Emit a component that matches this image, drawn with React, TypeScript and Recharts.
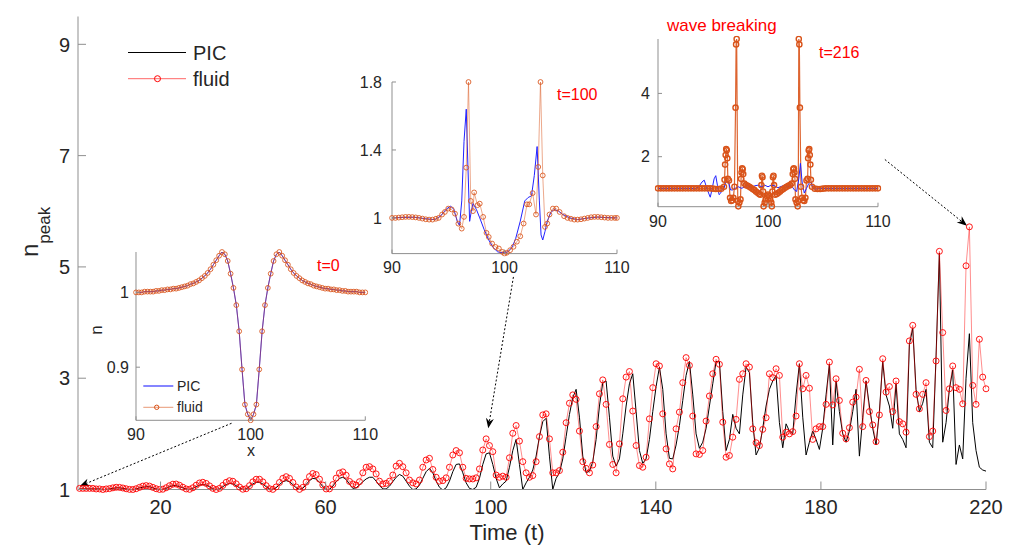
import React from "react";
import { LineChart, Line, XAxis, YAxis, ReferenceLine } from "recharts";

const FONT = '"Liberation Sans", Arial, Helvetica, sans-serif';
const INK = "#262626";
const FRAME = "#8f8f8f";
const ORANGE = "#d95319";
const BLUE = "#2020ff";

// main panel: peak density against time
const FLUID = [
  1.02, 1.02,
  1.02, 1.02, 1.02, 1.01, 1.01, 1.0, 1.01,
  1.016, 1.03, 1.04, 1.038, 1.027, 1.013, 1.002,
  1.0, 1.014, 1.038, 1.061, 1.07, 1.061, 1.038, 1.014, 1.001,
  1.005, 1.032, 1.068, 1.095, 1.098, 1.076, 1.041, 1.01,
  1.003, 1.031, 1.077, 1.117, 1.13, 1.109, 1.065, 1.021, 1.0,
  1.021, 1.073, 1.128, 1.158, 1.148, 1.102, 1.044, 1.005,
  1.014, 1.069, 1.137, 1.184, 1.184, 1.137, 1.069, 1.014,
  1.002, 1.046, 1.126, 1.2, 1.23, 1.2, 1.126, 1.046, 1.002,
  1.038, 1.132, 1.232, 1.287, 1.268, 1.185, 1.08, 1.01,
  1.011, 1.089, 1.204, 1.296, 1.317, 1.256, 1.145,
  1.10, 1.08, 1.14, 1.30, 1.40, 1.41, 1.37, 1.28, 1.15, 1.10,
  1.11, 1.15, 1.26, 1.42, 1.47, 1.41, 1.30, 1.17, 1.12, 1.10,
  1.17, 1.40, 1.53, 1.56, 1.36, 1.22, 1.15, 1.16, 1.21, 1.40,
  1.62, 1.70, 1.66, 1.40, 1.20, 1.19, 1.19, 1.21, 1.37, 1.71,
  1.91, 1.79, 1.68, 1.26, 1.22, 1.24, 1.22, 1.57, 2.01, 2.15,
  1.87, 1.50, 1.30, 1.22, 1.25, 1.50, 1.95, 2.34, 2.36, 1.91,
  1.30, 1.30, 1.34, 1.67, 2.20, 2.55, 2.70, 2.62, 2.05, 1.50,
  1.38, 1.30, 1.44, 2.13, 2.72, 2.97, 2.53, 1.81, 1.45, 1.30,
  1.82, 2.63, 3.02, 3.12, 2.41, 1.79, 1.43, 1.40, 1.58, 2.27,
  2.83, 3.26, 3.22, 2.36, 1.73, 1.46, 1.37, 2.09, 2.39, 2.92,
  3.37, 3.23, 2.32, 1.64, 1.63, 1.70, 2.23, 2.68, 3.08, 3.34,
  3.25, 2.21, 1.58, 1.61, 1.94, 2.26, 2.98, 3.08, 3.26, 3.20,
  2.09, 1.84, 1.79, 2.08, 2.29, 3.08, 3.01, 3.17, 3.05, 1.94,
  2.03, 2.00, 2.04, 2.32,
  3.26, 2.81, 3.05, 2.82, 1.90, 2.09, 2.13, 2.13, 2.53, 3.29,
  2.52, 2.99, 2.60, 2.01, 1.91, 2.11, 2.57, 2.66, 3.16, 2.13,
  2.96, 2.40, 2.16, 1.86, 2.34, 3.35, 2.75, 2.85, 2.40, 2.95,
  2.22, 2.18, 2.03, 3.67, 3.95, 2.71, 2.45, 2.71, 2.92, 1.95,
  2.05, 3.31, 5.28, 3.82, 2.42, 2.81, 3.22, 2.83, 2.80, 2.54,
  5.02, 5.72, 2.87, 2.53, 3.70, 3.02, 2.81,
];

const PIC = [
  1.01, 1.01,
  1.01, 1.01, 1.01, 1.01, 1.01, 1.0, 1.0,
  1.01, 1.02, 1.03, 1.03, 1.02, 1.01, 1.0,
  1.0, 1.01, 1.03, 1.04, 1.05, 1.05, 1.03, 1.01, 1.0,
  1.0, 1.02, 1.05, 1.07, 1.07, 1.05, 1.03, 1.01,
  1.0, 1.02, 1.05, 1.08, 1.09, 1.08, 1.05, 1.01, 1.0,
  1.01, 1.05, 1.09, 1.11, 1.10, 1.07, 1.03, 1.0,
  1.01, 1.05, 1.10, 1.13, 1.13, 1.10, 1.05, 1.01,
  1.0, 1.03, 1.09, 1.14, 1.16, 1.14, 1.09, 1.03, 1.0,
  1.02, 1.09, 1.16, 1.20, 1.19, 1.13, 1.05, 1.0,
  1.0, 1.06, 1.14, 1.20, 1.22, 1.18, 1.10,
  1.02, 1.03, 1.08, 1.14, 1.19, 1.22, 1.22, 1.15, 1.07, 1.01,
  1.01, 1.06, 1.14, 1.22, 1.27, 1.24, 1.15, 1.06, 1.00, 1.01,
  1.08, 1.20, 1.32, 1.38, 1.30, 1.15, 1.04, 0.99, 1.03, 1.15,
  1.32, 1.45, 1.46, 1.30, 1.12, 1.02, 1.00, 1.04, 1.20, 1.45,
  1.64, 1.66, 1.45, 1.20, 1.03, 1.10, 1.15, 1.40, 1.70, 1.90,
  1.45, 1.00, 1.12, 1.22, 1.35, 1.60, 1.95, 2.22, 2.28, 1.60,
  1.00, 1.20, 1.30, 1.55, 1.95, 2.35, 2.65, 2.80, 2.30, 1.60,
  1.30, 1.33, 1.50, 1.90, 2.50, 2.92, 2.95, 2.30, 1.60, 1.42,
  1.55, 2.00, 2.50, 2.90, 3.08, 2.40, 1.70, 1.47, 1.55, 1.90,
  2.40, 2.85, 3.20, 2.80, 2.00, 1.56, 1.55, 1.80, 2.15, 2.60,
  3.05, 3.30, 2.70, 2.00, 1.74, 1.85, 2.10, 2.50, 2.90, 3.30,
  3.30, 2.40, 1.70, 1.90, 2.35, 2.10, 2.00, 2.70, 3.20, 3.10,
  2.20, 1.62, 1.75, 2.10, 2.50, 2.80, 2.95, 3.05, 2.20, 1.75,
  2.18, 2.05, 2.00, 2.70, 3.26, 2.30, 1.62,
  1.85, 2.05, 1.90, 1.72, 2.10, 2.70, 3.25, 1.80, 2.95, 2.40,
  2.00, 1.85, 2.05, 2.40, 2.80, 1.60, 2.30, 2.95, 2.50, 2.10,
  1.80, 2.40, 3.30, 2.70, 2.50, 2.10, 2.90, 2.00, 1.90, 1.75,
  3.60, 3.90, 2.80, 2.40, 2.55, 2.80, 1.85, 1.75, 3.40, 5.25,
  1.85, 2.20, 2.80, 3.15, 1.45, 1.80, 1.55, 3.00, 3.80, 2.20,
  1.70, 1.40, 1.35, 1.33,
];

// output times of the simulation (uniform sampling)
const TIME = FLUID.map((_, j) => +(0.37 + 0.8075 * j).toFixed(3));

const T_TICKS = [20, 60, 100, 140, 180, 220];
const N_TICKS = [1, 3, 5, 7, 9];
const X_TICKS = [90, 100, 110];

// inset t=0: initial density profile (PIC and fluid coincide)
const T0_PROFILE = [
  [90, 1.0], [90.25, 1.0], [90.5, 1.0], [90.75, 1.001], [91, 1.001], [91.25, 1.001], [91.5, 1.001],
  [91.75, 1.002], [92, 1.002], [92.25, 1.003], [92.5, 1.003], [92.75, 1.004], [93, 1.004],
  [93.25, 1.005], [93.5, 1.005], [93.75, 1.006], [94, 1.007], [94.25, 1.008], [94.5, 1.009],
  [94.75, 1.011], [95, 1.012], [95.25, 1.014], [95.5, 1.016], [95.75, 1.019], [96, 1.022],
  [96.25, 1.026], [96.5, 1.031], [96.75, 1.037], [97, 1.043], [97.25, 1.049], [97.5, 1.054],
  [97.75, 1.051], [98, 1.042], [98.25, 1.025], [98.5, 1.006], [98.75, 0.983], [99, 0.948],
  [99.25, 0.897], [99.5, 0.85], [99.75, 0.837], [100, 0.829], [100.25, 0.837], [100.5, 0.85],
  [100.75, 0.897], [101, 0.948], [101.25, 0.983], [101.5, 1.006], [101.75, 1.025], [102, 1.042],
  [102.25, 1.051], [102.5, 1.054], [102.75, 1.049], [103, 1.043], [103.25, 1.037], [103.5, 1.031],
  [103.75, 1.026], [104, 1.022], [104.25, 1.019], [104.5, 1.016], [104.75, 1.014], [105, 1.012],
  [105.25, 1.011], [105.5, 1.009], [105.75, 1.008], [106, 1.007], [106.25, 1.006], [106.5, 1.005],
  [106.75, 1.005], [107, 1.004], [107.25, 1.004], [107.5, 1.003], [107.75, 1.003], [108, 1.002],
  [108.25, 1.002], [108.5, 1.001], [108.75, 1.001], [109, 1.001], [109.25, 1.001], [109.5, 1.0],
  [109.75, 1.0], [110, 1.0],
];

// inset t=100
const T100_FLUID = [
  [90, 1.0], [90.3, 1.0], [90.6, 1.002], [90.9, 1.004], [91.2, 1.006], [91.5, 1.006], [91.8, 1.005],
  [92.1, 1.003], [92.4, 1.0], [92.7, 0.996], [93.0, 0.992], [93.3, 0.99], [93.6, 0.99], [93.9, 0.995],
  [94.15, 1.0], [94.45, 1.02], [94.7, 1.035], [95.0, 1.055], [95.3, 1.05], [95.6, 1.025], [95.9, 0.966],
  [96.2, 0.937], [96.4, 1.006], [96.6, 1.296], [96.8, 1.8], [97.0, 1.1], [97.2, 1.04], [97.3, 1.15],
  [97.6, 1.075], [97.8, 1.084], [98.1, 1.006], [98.4, 0.912], [98.6, 0.888], [98.9, 0.849],
  [99.2, 0.829], [99.5, 0.82], [99.8, 0.8], [100.0, 0.79], [100.2, 0.795], [100.5, 0.81],
  [100.8, 0.83], [101.1, 0.86], [101.4, 0.892], [101.7, 0.967], [102.0, 1.08], [102.2, 1.08],
  [102.5, 1.146], [102.8, 1.02], [103.0, 1.3], [103.2, 1.8], [103.4, 1.25], [103.6, 0.947],
  [103.8, 0.967], [104.0, 1.02], [104.3, 1.055], [104.6, 1.055], [104.9, 1.035], [105.3, 1.01],
  [105.6, 1.0], [105.9, 0.995], [106.2, 0.99], [106.5, 0.99], [106.8, 0.992], [107.1, 0.996],
  [107.4, 1.0], [107.7, 1.004], [108.0, 1.006], [108.3, 1.006], [108.6, 1.004], [108.9, 1.002],
  [109.2, 1.0], [109.5, 1.0], [109.8, 1.0], [110, 1.0],
];
const T100_PIC = [
  [90, 1.0], [91, 1.003], [92, 1.004], [93, 0.995], [93.8, 0.99], [94.3, 1.01], [94.8, 1.05],
  [95.2, 1.07], [95.5, 1.05], [95.8, 0.98], [96.0, 0.955], [96.2, 1.1], [96.4, 1.45], [96.6, 1.64],
  [96.75, 1.3], [96.9, 0.98], [97.05, 1.04], [97.2, 1.085], [97.5, 1.05], [97.8, 1.0], [98.2, 0.93],
  [98.6, 0.87], [99.0, 0.825], [99.4, 0.8], [99.8, 0.795], [100.3, 0.8], [100.7, 0.83], [101.0, 0.88],
  [101.4, 0.98], [101.8, 1.1], [102.1, 1.12], [102.4, 1.13], [102.65, 1.25], [102.9, 1.42],
  [103.1, 1.1], [103.25, 0.9], [103.4, 0.87], [103.6, 0.92], [103.8, 0.98], [104.1, 1.03],
  [104.4, 1.05], [104.8, 1.04], [105.2, 1.02], [105.8, 1.0], [106.5, 0.99], [107.5, 1.0],
  [108.3, 1.005], [109, 1.002], [110, 1.0],
];

// inset t=216 (wave breaking)
const T216_FLUID = [
  [90, 1], [90.25, 1], [90.5, 1], [90.75, 1], [91, 1], [91.25, 1], [91.5, 1], [91.75, 1],
  [92, 1], [92.25, 1], [92.5, 1], [92.75, 1], [93, 1], [93.25, 1], [93.5, 1], [93.75, 1],
  [94, 1], [94.25, 1], [94.5, 1], [94.75, 1], [95, 0.99], [95.25, 0.98], [95.5, 0.98], [95.75, 0.99],
  [96.0, 1.05], [96.05, 1.27], [96.1, 1.75], [96.15, 2.05], [96.2, 2.24], [96.25, 2.2], [96.3, 1.95],
  [96.35, 1.3], [96.45, 1.25], [96.55, 0.7], [96.65, 0.6], [96.75, 0.62], [96.85, 0.7], [96.95, 1.05],
  [97.05, 3.55], [97.1, 5.55], [97.15, 5.72], [97.25, 0.6], [97.3, 0.43], [97.4, 0.55], [97.5, 0.65],
  [97.55, 1.3], [97.6, 1.5], [97.65, 1.63], [97.7, 1.6], [97.75, 1.45], [97.85, 1.15], [98.0, 1.1],
  [98.15, 1.08], [98.3, 1.05], [98.45, 1.02], [98.6, 0.98], [98.75, 0.95], [98.9, 0.9], [99.05, 0.86],
  [99.2, 0.82], [99.3, 0.8], [99.4, 1.1], [99.45, 1.4], [99.5, 1.35], [99.55, 0.9], [99.6, 0.43],
  [99.7, 0.55], [99.8, 0.65], [99.9, 0.75], [100.0, 0.8], [100.1, 0.75], [100.2, 0.65], [100.3, 0.55],
  [100.35, 0.43], [100.4, 0.9], [100.45, 1.35], [100.5, 1.4], [100.55, 1.1], [100.65, 0.8],
  [100.8, 0.82], [100.95, 0.86], [101.1, 0.9], [101.25, 0.95], [101.4, 0.98], [101.55, 1.02],
  [101.7, 1.05], [101.85, 1.08], [102.0, 1.1], [102.15, 1.15], [102.25, 1.45], [102.3, 1.6],
  [102.35, 1.63], [102.4, 1.5], [102.45, 1.3], [102.5, 0.65], [102.6, 0.55], [102.7, 0.43],
  [102.75, 0.6], [102.8, 5.72], [102.85, 5.55], [102.9, 3.55], [103.0, 1.05], [103.1, 0.7],
  [103.2, 0.62], [103.3, 0.6], [103.4, 0.7], [103.5, 1.25], [103.6, 1.3], [103.65, 1.95],
  [103.7, 2.2], [103.75, 2.24], [103.8, 2.05], [103.85, 1.75], [103.9, 1.27], [104.0, 1.05],
  [104.25, 0.99], [104.5, 0.98], [104.75, 0.98], [105, 0.99], [105.25, 1], [105.5, 1], [105.75, 1],
  [106, 1], [106.25, 1], [106.5, 1], [106.75, 1], [107, 1], [107.25, 1], [107.5, 1], [107.75, 1],
  [108, 1], [108.25, 1], [108.5, 1], [108.75, 1], [109, 1], [109.25, 1], [109.5, 1], [109.75, 1], [110, 1],
];
const T216_PIC = [
  [90, 1.0], [93.0, 1.0], [93.4, 0.98], [93.7, 1.05], [94.0, 1.2], [94.2, 1.26], [94.4, 1.05],
  [94.6, 0.85], [94.75, 0.72], [94.9, 0.95], [95.1, 1.3], [95.25, 1.4], [95.4, 1.1], [95.55, 0.8],
  [95.7, 0.85], [95.85, 0.98], [96.0, 1.0], [96.2, 1.25], [96.4, 1.2], [96.6, 0.95], [96.8, 0.95],
  [97.0, 1.0], [97.3, 1.05], [97.6, 1.0], [97.9, 1.05], [98.2, 1.08], [98.5, 1.03], [98.8, 1.08],
  [99.1, 1.1], [99.4, 1.05], [99.7, 1.1], [100.0, 1.05], [100.3, 1.1], [100.6, 1.08], [100.9, 1.02],
  [101.2, 1.06], [101.5, 1.1], [101.8, 1.05], [102.1, 1.1], [102.4, 0.95], [102.6, 0.9], [102.8, 1.3],
  [102.95, 1.79], [103.1, 1.2], [103.3, 0.85], [103.5, 1.0], [103.7, 1.15], [103.9, 1.2], [104.1, 1.0],
  [104.3, 0.97], [104.6, 1.0], [110, 1.0],
];

// dotted annotation arrows (tail -> head, in main-axis data units)
const ARROWS = [
  [{ x: 37.2, y: 2.19 }, { x: 0.4, y: 1.06 }],
  [{ x: 105.5, y: 4.82 }, { x: 99.4, y: 2.1 }],
  [{ x: 195.5, y: 6.93 }, { x: 215.4, y: 5.74 }],
];

const mainData = TIME.map((t, j) => ({ t, pic: PIC[j], fluid: FLUID[j] }));
const toXY = (pts: number[][]) => pts.map(([x, n]) => ({ x, n }));

// inward tick marks on every side of the box (matlab style)
const tickFactory = (side: string, len: number, size: number, gap: number) => (p: any) => {
  const { x, y, payload } = p;
  if (side === "bottom") {
    return (
      <g>
        <line x1={x} x2={x} y1={y - gap} y2={y - gap - len} stroke={FRAME} />
        <text x={x} y={y} dy={size * 0.74} textAnchor="middle" fontSize={size} fill={INK} fontFamily={FONT}>
          {payload.value}
        </text>
      </g>
    );
  }
  if (side === "left") {
    return (
      <g>
        <line x1={x + gap} x2={x + gap + len} y1={y} y2={y} stroke={FRAME} />
        <text x={x} y={y} dy={size * 0.36} textAnchor="end" fontSize={size} fill={INK} fontFamily={FONT}>
          {payload.value}
        </text>
      </g>
    );
  }
  if (side === "top") return <line x1={x} x2={x} y1={y} y2={y + len} stroke={FRAME} />;
  return <line x1={x - len} x2={x} y1={y} y2={y} stroke={FRAME} />;
};

const arrowShape = (p: any) => {
  const { x1, y1, x2, y2 } = p;
  const a = Math.atan2(y2 - y1, x2 - x1);
  const c = Math.cos(a);
  const s = Math.sin(a);
  const L = 10;
  const W = 4;
  const bx = x2 - L * c;
  const by = y2 - L * s;
  const pts = [
    [x2, y2],
    [bx - s * W, by + c * W],
    [bx + 0.3 * L * c, by + 0.3 * L * s],
    [bx + s * W, by - c * W],
  ]
    .map((q) => q.join(","))
    .join(" ");
  return (
    <g>
      <line x1={x1} y1={y1} x2={bx + 0.3 * L * c} y2={by + 0.3 * L * s} stroke="#000" strokeWidth={1} strokeDasharray="2 2" />
      <polygon points={pts} fill="#000" />
    </g>
  );
};

type Box = { l: number; t: number; r: number; b: number };

function Inset({ box, yDomain, yTicks, yGap, children }: { box: Box; yDomain: number[]; yTicks: number[]; yGap: number; children: React.ReactNode }) {
  const ml = 60;
  const mt = 14;
  const mr = 22;
  const mb = 34;
  const w = box.r - box.l + ml + mr;
  const h = box.b - box.t + mt + mb;
  return (
    <div style={{ position: "absolute", left: box.l - ml, top: box.t - mt }}>
      <LineChart width={w} height={h} margin={{ top: mt, right: mr, bottom: 0, left: 0 }}>
        <XAxis dataKey="x" type="number" domain={[90, 110]} ticks={X_TICKS} interval={0} allowDataOverflow height={mb}
          tickSize={0} tickMargin={8} tickLine={false} axisLine={{ stroke: FRAME }} tick={tickFactory("bottom", 4, 16, 8)} />
        <XAxis xAxisId="top" orientation="top" dataKey="x" type="number" domain={[90, 110]} ticks={X_TICKS} interval={0}
          allowDataOverflow height={0} tickSize={0} tickMargin={0} tickLine={false} axisLine={{ stroke: FRAME }} tick={tickFactory("top", 4, 0, 0)} />
        <YAxis type="number" domain={yDomain} ticks={yTicks} interval={0} allowDataOverflow width={ml}
          tickSize={0} tickMargin={yGap} tickLine={false} axisLine={{ stroke: FRAME }} tick={tickFactory("left", 4, 16, yGap)} />
        <YAxis yAxisId="right" orientation="right" type="number" domain={yDomain} ticks={yTicks} interval={0} allowDataOverflow
          width={0} tickSize={0} tickMargin={0} tickLine={false} axisLine={{ stroke: FRAME }} tick={tickFactory("right", 4, 0, 0)} />
        {children}
      </LineChart>
    </div>
  );
}

const fluidDots = (op: number, r: number, sw: number) => ({ r, stroke: ORANGE, strokeOpacity: op, strokeWidth: sw, fill: "none", clipDot: false });

export default function App() {
  return (
    <div style={{ position: "absolute", left: 0, top: 0, width: 1035, height: 545, background: "#fff", fontFamily: FONT }}>
      <div style={{ position: "absolute", left: 0, top: 0 }}>
        <LineChart width={1035} height={545} data={mainData} margin={{ top: 16.5, right: 49, bottom: 0, left: 0 }}>
          <XAxis dataKey="t" type="number" domain={[0, 220]} ticks={T_TICKS} interval={0} allowDataOverflow height={55.5}
            tickSize={0} tickMargin={10} tickLine={false} axisLine={{ stroke: FRAME }} tick={tickFactory("bottom", 8, 20, 10)} />
          <XAxis xAxisId="top" orientation="top" dataKey="t" type="number" domain={[0, 220]} ticks={T_TICKS} interval={0}
            allowDataOverflow height={0} tickSize={0} tickMargin={0} tickLine={false} axisLine={{ stroke: FRAME }} tick={tickFactory("top", 8, 0, 0)} />
          <YAxis type="number" domain={[1, 9.5]} ticks={N_TICKS} interval={0} allowDataOverflow width={78}
            tickSize={0} tickMargin={8} tickLine={false} axisLine={{ stroke: FRAME }} tick={tickFactory("left", 8, 20, 8)} />
          <YAxis yAxisId="right" orientation="right" type="number" domain={[1, 9.5]} ticks={N_TICKS} interval={0} allowDataOverflow
            width={0} tickSize={0} tickMargin={0} tickLine={false} axisLine={{ stroke: FRAME }} tick={tickFactory("right", 8, 0, 0)} />
          <Line dataKey="pic" stroke="#000" strokeWidth={1} dot={false} isAnimationActive={false} />
          <Line dataKey="fluid" stroke="#ff0000" strokeOpacity={0.45} strokeWidth={1}
            dot={{ r: 3, stroke: "#ff0000", strokeOpacity: 0.9, strokeWidth: 1, fill: "none", clipDot: false }} isAnimationActive={false} />
          {ARROWS.map((seg, i) => (
            <ReferenceLine key={i} segment={seg} ifOverflow="visible" shape={arrowShape} />
          ))}
        </LineChart>
      </div>

      <Inset box={{ l: 136, t: 251.7, r: 365.3, b: 420 }} yDomain={[0.829, 1.054]} yTicks={[0.9, 1]} yGap={7}>
        <Line data={toXY(T0_PROFILE)} dataKey="n" stroke={BLUE} strokeWidth={1} dot={false} isAnimationActive={false} />
        <Line data={toXY(T0_PROFILE)} dataKey="n" stroke={ORANGE} strokeOpacity={0.5} strokeWidth={1} dot={fluidDots(0.85, 2.4, 1)} isAnimationActive={false} />
      </Inset>
      <Inset box={{ l: 391.7, t: 81.7, r: 616.7, b: 253.3 }} yDomain={[0.79, 1.8]} yTicks={[1, 1.4, 1.8]} yGap={10}>
        <Line data={toXY(T100_PIC)} dataKey="n" stroke={BLUE} strokeWidth={1} dot={false} isAnimationActive={false} />
        <Line data={toXY(T100_FLUID)} dataKey="n" stroke={ORANGE} strokeOpacity={0.5} strokeWidth={1} dot={fluidDots(0.85, 2.4, 1)} isAnimationActive={false} />
      </Inset>
      <Inset box={{ l: 657.7, t: 39, r: 877.7, b: 206.7 }} yDomain={[0.42, 5.72]} yTicks={[2, 4]} yGap={8}>
        <Line data={toXY(T216_FLUID)} dataKey="n" stroke={ORANGE} strokeOpacity={0.9} strokeWidth={1.2} dot={fluidDots(1, 2.6, 1.4)} isAnimationActive={false} />
        <Line data={toXY(T216_PIC)} dataKey="n" stroke={BLUE} strokeWidth={1} dot={false} isAnimationActive={false} />
      </Inset>

      <svg width={1035} height={545} style={{ position: "absolute", left: 0, top: 0, pointerEvents: "none" }} fontFamily={FONT}>
        {/* main legend */}
        <line x1={128} x2={186} y1={52.5} y2={52.5} stroke="#000" />
        <text x={193} y={60} fontSize={20} fill={INK}>PIC</text>
        <line x1={128} x2={186} y1={78.7} y2={78.7} stroke="#ff0000" strokeOpacity={0.6} />
        <circle cx={157.5} cy={78.7} r={3} fill="none" stroke="#ff0000" />
        <text x={193} y={85.5} fontSize={20} fill={INK}>fluid</text>

        {/* main axis labels */}
        <text transform="translate(38,257) rotate(-90)" fill={INK}>
          <tspan fontSize={24}>n</tspan>
          <tspan fontSize={17} dy={12}>peak</tspan>
        </text>
        <text x={507} y={540} fontSize={22} textAnchor="middle" fill={INK}>Time (t)</text>

        {/* inset t=0 */}
        <text x={317} y={271} fontSize={16} fill="#ff0000">t=0</text>
        <text transform="translate(101.5,330) rotate(-90)" fontSize={17} textAnchor="middle" fill={INK}>n</text>
        <text x={251} y={456} fontSize={16} textAnchor="middle" fill={INK}>x</text>
        <line x1={143.3} x2={173.3} y1={386} y2={386} stroke={BLUE} strokeOpacity={0.55} strokeWidth={2} />
        <text x={177} y={390.7} fontSize={14} fill={INK}>PIC</text>
        <line x1={143.3} x2={173.3} y1={407.3} y2={407.3} stroke={ORANGE} strokeOpacity={0.6} />
        <circle cx={156.7} cy={407.3} r={2.2} fill="none" stroke={ORANGE} />
        <text x={177} y={411.7} fontSize={14} fill={INK}>fluid</text>

        {/* inset t=100 */}
        <text x={557} y={100} fontSize={16} fill="#ff0000">t=100</text>

        {/* inset t=216 */}
        <text x={819} y={57.5} fontSize={16} fill="#ff0000">t=216</text>
        <text x={667} y={31} fontSize={17} fill="#ff0000">wave breaking</text>
      </svg>
    </div>
  );
}
